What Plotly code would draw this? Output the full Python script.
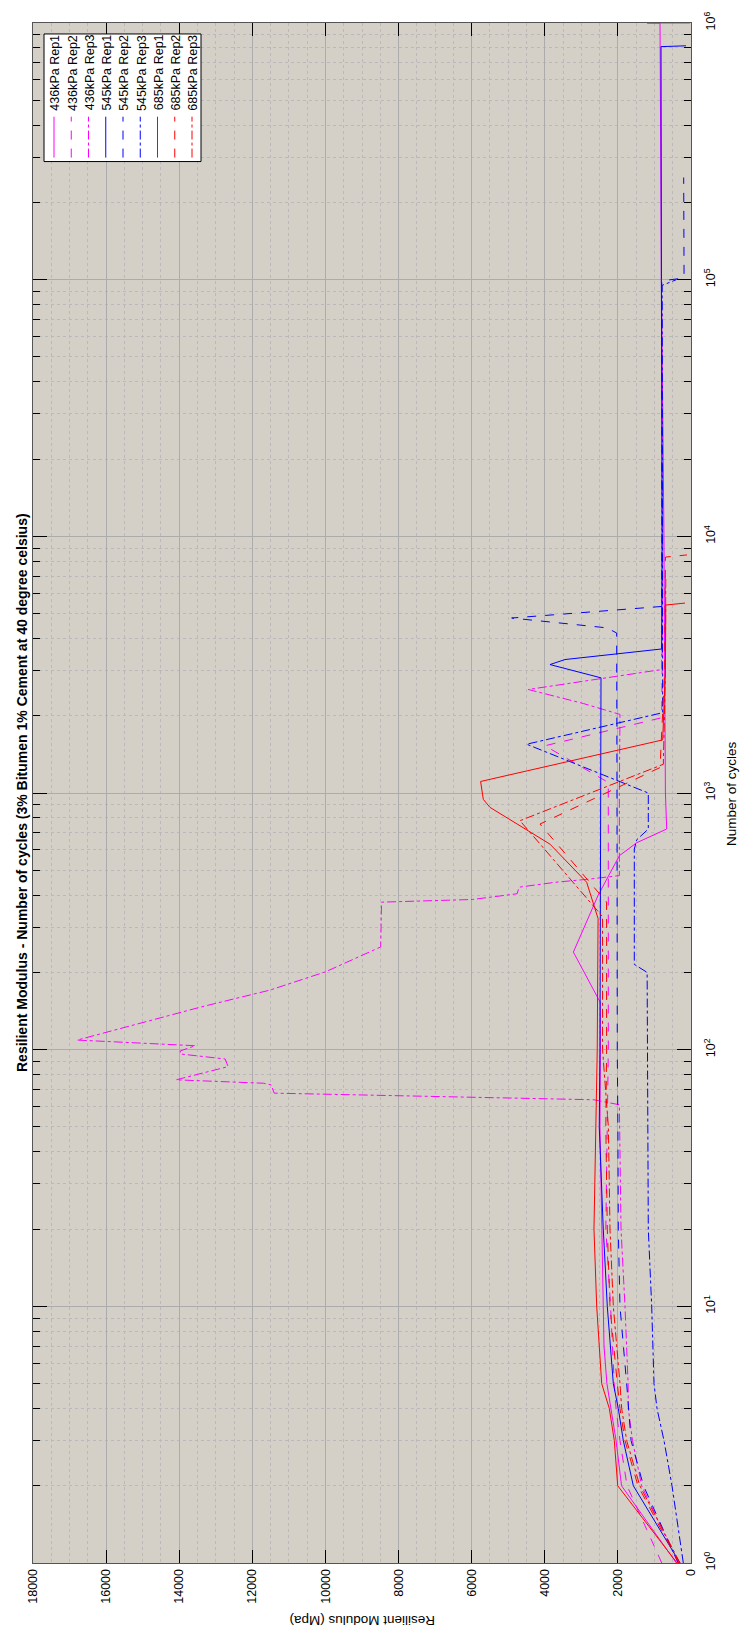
import plotly.graph_objects as go

# ---------------- data (cycles, resilient modulus MPa) ----------------
n_436_r1 = [1, 2, 3, 4, 5, 7, 10, 20, 50, 100, 153, 240, 399, 570, 640, 724, 1000, 10000, 100000, 999000, 1000000, 1000000]
m_436_r1 = [400, 1900, 2050, 2200, 2300, 2380, 2400, 2426, 2490, 2480, 2484, 3218, 2542, 1959, 1486, 665, 700, 740, 810, 848, 1200, 30]

n_436_r2 = [1, 2, 3, 4, 5, 10, 20, 50, 100, 500, 1099, 1528, 1964, 3000, 10000, 30000]
m_436_r2 = [800, 1750, 1943, 2050, 2100, 2200, 2330, 2300, 2262, 2262, 2262, 3995, 803, 790, 780, 790]

n_436_r3 = [1, 2, 3, 4, 5, 10, 20, 50, 61, 63.8, 67.7, 72.9, 74, 76.3, 85.9, 92, 96.2, 98.9, 103.6, 109,
            117.4, 146.9, 170.6, 200.9, 251.3, 375.6, 384.7, 404.9, 429.7, 449, 462, 476.7, 1000, 2024,
            2232, 2531, 3027, 10000, 20000]
m_436_r3 = [350, 1350, 1600, 1715, 1720, 1806, 1914, 1960, 1960, 2658, 11403, 11485, 11695, 14085, 12663, 12745,
            13969, 13969, 13561, 16790, 15951, 13386, 11520, 10004, 8489, 8465, 5982, 4757, 4699, 3708, 2775,
            1959, 1960, 1943, 2946, 4451, 803, 790, 800]

n_545_r1 = [1, 2, 3, 4, 5, 10, 20, 50, 100, 500, 1000, 2810, 3165, 3311, 3640, 10000, 100000, 809000, 815000]
m_545_r1 = [300, 1578, 1852, 1989, 2125, 2290, 2400, 2510, 2490, 2470, 2480, 2462, 3858, 3447, 803, 790, 810, 820, 137]

n_545_r2 = [1, 2, 3, 4, 5, 10, 20, 50, 100, 1000, 4200, 4400, 4805, 5330, 10000, 99000, 101000, 103000, 250000]
m_545_r2 = [350, 1300, 1640, 1700, 1760, 1943, 1989, 2000, 2017, 2025, 2033, 2300, 4906, 803, 790, 800, 300, 190, 200]

n_545_r3 = [1, 2, 3, 4, 5, 10, 20, 50, 100, 200, 215, 604, 657, 724, 1000, 1549, 2055, 10000, 95000, 100000]
m_545_r3 = [210, 520, 739, 930, 1012, 1075, 1168, 1185, 1200, 1200, 1551, 1551, 1486, 1168, 1168, 4496, 775, 780, 790, 400]

n_685_r1 = [1, 2, 3, 4, 5, 10, 20, 50, 100, 324, 449, 632, 879, 945, 1109, 1610, 3000, 5400, 5495]
m_685_r1 = [380, 2005, 2098, 2235, 2443, 2580, 2654, 2600, 2565, 2542, 2854, 3858, 5499, 5682, 5755, 775, 700, 690, 164]

n_685_r2 = [1, 2, 3, 4, 5, 10, 20, 50, 100, 376, 757, 1256, 3000, 8300, 8465]
m_685_r2 = [330, 1450, 1806, 1943, 2016, 2216, 2290, 2330, 2309, 2309, 4131, 848, 720, 700, 110]

n_685_r3 = [1, 2, 3, 4, 5, 10, 20, 50, 100, 330, 780, 1294, 3000, 7000]
m_685_r3 = [300, 1400, 1760, 1896, 1943, 2125, 2216, 2260, 2420, 2420, 4678, 757, 700, 690]

series_names = ["436kPa Rep1", "436kPa Rep2", "436kPa Rep3",
                "545kPa Rep1", "545kPa Rep2", "545kPa Rep3",
                "685kPa Rep1", "685kPa Rep2", "685kPa Rep3"]

x_ticks = list(range(0, 18001, 2000))
x_tick_text = [str(v) for v in x_ticks]
y_tick_vals = [1, 10, 100, 1000, 10000, 100000, 1000000]
y_tick_text = ["10<sup>%d</sup>" % i for i in range(7)]

title_text = "Resilient Modulus - Number of cycles (3% Bitumen 1% Cement at 40 degree celsius)"
xlabel_text = "Resilient Modulus (Mpa)"
ylabel_text = "Number of cycles"

# ---------------- styling ----------------
series_data = [(n_436_r1, m_436_r1), (n_436_r2, m_436_r2), (n_436_r3, m_436_r3),
               (n_545_r1, m_545_r1), (n_545_r2, m_545_r2), (n_545_r3, m_545_r3),
               (n_685_r1, m_685_r1), (n_685_r2, m_685_r2), (n_685_r3, m_685_r3)]
colors = ["#ff00ff"] * 3 + ["#0000ff"] * 3 + ["#ff0000"] * 3
dashes = ["solid", "dash", "dashdot"] * 3

W, H = 740, 1634
L, R, T, B = 33, 691, 18, 1563   # plot area in pixels
FONT = "Liberation Sans, Arial, sans-serif"


def px(x):
    return (x - L) / (R - L)


def py(y):
    return (B - y) / (B - T)


fig = go.Figure()
for (n, m), name, c, d in zip(series_data, series_names, colors, dashes):
    fig.add_trace(go.Scatter(x=m, y=n, mode="lines", name=name,
                             line=dict(color=c, width=1, dash=d), showlegend=False))

minor_vals = [k * 10 ** e for e in range(6) for k in range(2, 10)]

fig.update_layout(
    width=W, height=H,
    margin=dict(l=L, r=W - R, t=T, b=H - B, pad=0),
    paper_bgcolor="white", plot_bgcolor="#d4d0c8",
    font=dict(family=FONT, size=12.5, color="black"),
    xaxis=dict(range=[18000, 0], tickmode="array", tickvals=x_ticks, ticktext=x_tick_text, tickangle=-90,
               ticks="inside", ticklen=13, tickcolor="black", tickwidth=1,
               showline=True, linecolor="#555555", linewidth=1, mirror="allticks",
               showgrid=True, gridcolor="#acacac", gridwidth=1, zeroline=False,
               minor=dict(tickmode="linear", tick0=0, dtick=500, showgrid=True,
                          griddash="dot", gridcolor="#b9b9b9", ticks=""),
               tickfont=dict(size=12.5, color="black", family=FONT)),
    yaxis=dict(type="log", range=[0, 6], side="right", tickmode="array",
               tickvals=y_tick_vals, ticktext=y_tick_text, tickangle=-90,
               ticks="inside", ticklen=14, tickcolor="black", tickwidth=1,
               ticklabelstandoff=8,
               showline=True, linecolor="#555555", linewidth=1, mirror="allticks",
               showgrid=True, gridcolor="#acacac", gridwidth=1, zeroline=False,
               minor=dict(tickmode="array", tickvals=minor_vals, ticks="inside", ticklen=7,
                          tickcolor="black", showgrid=True, griddash="dot", gridcolor="#b9b9b9"),
               tickfont=dict(size=12.5, color="black", family=FONT)),
)

# titles
fig.add_annotation(text="<b>" + title_text + "</b>", xref="paper", yref="paper",
                   x=px(22), y=py((T + B) / 2), textangle=-90, showarrow=False,
                   xanchor="center", yanchor="middle", font=dict(size=14, family=FONT, color="black"))
fig.add_annotation(text=ylabel_text, xref="paper", yref="paper",
                   x=px(731), y=py((T + B) / 2), textangle=-90, showarrow=False,
                   xanchor="center", yanchor="middle", font=dict(size=13.5, family=FONT, color="black"))
fig.add_annotation(text=xlabel_text, xref="paper", yref="paper",
                   x=px((L + R) / 2), y=py(1620), textangle=180, showarrow=False,
                   xanchor="center", yanchor="middle", font=dict(size=13.5, family=FONT, color="black"))

# legend (drawn rotated like the rest of the figure)
fig.add_shape(type="rect", xref="paper", yref="paper", x0=px(44), x1=px(201), y0=py(157), y1=py(29),
              fillcolor="white", line=dict(color="black", width=1), layer="above")
for i, (name, c, d) in enumerate(zip(series_names, colors, dashes)):
    cx = 54 + i * 17.25
    fig.add_shape(type="line", xref="paper", yref="paper", x0=px(cx), x1=px(cx), y0=py(153), y1=py(112),
                  line=dict(color=c, width=1, dash=d), layer="above")
    fig.add_annotation(text=name, xref="paper", yref="paper", x=px(cx + 1), y=py(108),
                       textangle=-90, showarrow=False, xanchor="center", yanchor="bottom",
                       font=dict(size=12.5, family=FONT, color="black"))

fig.write_html("out.html")
